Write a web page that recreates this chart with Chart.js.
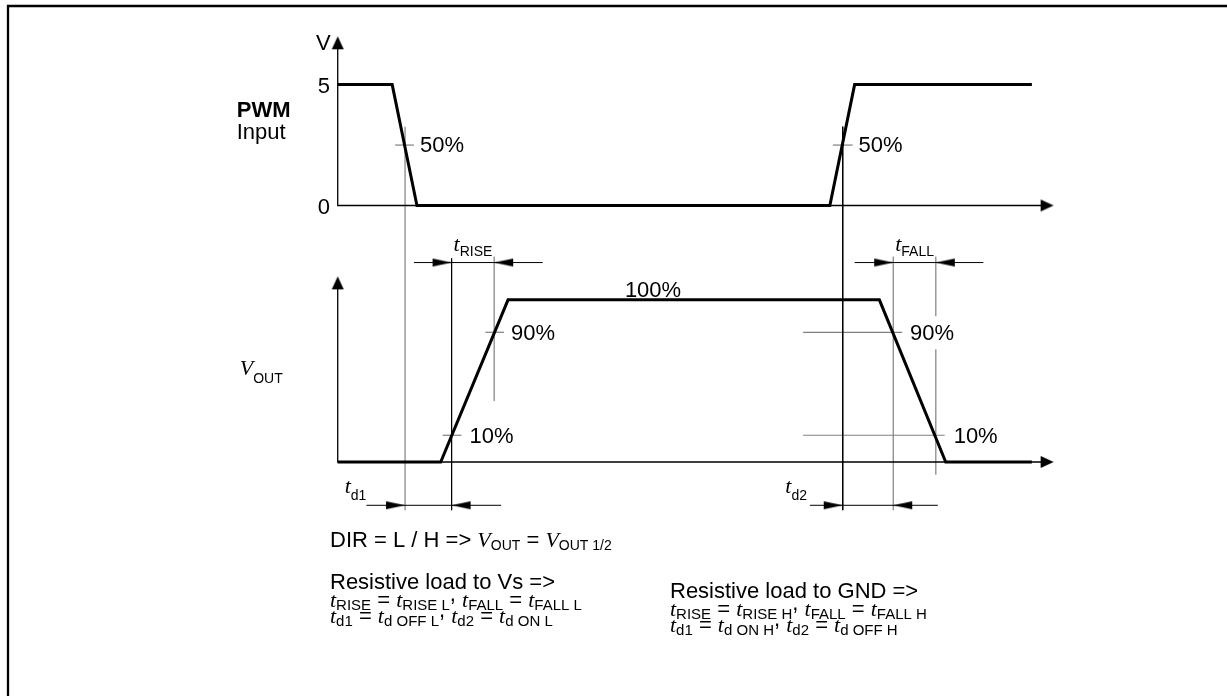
<!DOCTYPE html>
<html>
<head>
<meta charset="utf-8">
<script src="https://cdn.jsdelivr.net/npm/chart.js@4.4.1/dist/chart.umd.min.js"></script>
<style>
  html, body { margin: 0; padding: 0; background: #fff; }
  #wrap { width: 1227px; height: 696px; }
</style>
</head>
<body>
<div id="wrap"><canvas id="timing" width="1227" height="696"></canvas></div>
<script>
// time in schematic units, PWM in volts, VOUT in percent of full swing
const pwmTimes = [0, 5.5, 8.0, 49.7, 52.2, 70.1];
const pwmVolts = [5, 5, 0, 0, 5, 5];
const outTimes = [0, 10.4, 17.2, 54.7, 61.4, 70.1];
const outLevels = [0, 0, 100, 100, 0, 0];

const pwmTicks = ['5', '0'];
const pwmTickValues = [5, 0];

const halfCross = [6.8, 51.0];   // PWM 50% crossings
const riseCross = [11.5, 15.8];  // VOUT 10% / 90% on the rising edge
const fallCross = [56.1, 60.4];  // VOUT 90% / 10% on the falling edge
const markLevels = [16.5, 80];   // heights where 10% and 90% are marked
const markLabels = ['10%', '90%'];

const axisEnd = 72.3;
const pwmAxisTop = 7.0;
const outAxisTop = 114.5;

// page geometry
const W = 1227, H = 696;
const X0 = 335, XU = 10;
const PWM0 = 203, PWMU = 24.6;
const OUT0 = 464, OUTU = 1.65;

const BLACK = '#000';
const GREY = '#808080';
const SANS = '"Liberation Sans", Arial, Helvetica, sans-serif';
const SERIF = '"Liberation Serif", "Times New Roman", serif';

function pts(xs, ys) {
  return xs.map((x, i) => ({ x: x, y: ys[i] }));
}

function lineSet(data, axis, color, width, order) {
  return {
    data: data, yAxisID: axis, showLine: true, fill: false,
    borderColor: color, borderWidth: width, pointRadius: 0,
    tension: 0, order: order
  };
}

function arrowHead(len, half) {
  const c = document.createElement('canvas');
  c.width = Math.round(half * 2 + 2);
  c.height = Math.round(len * 2 + 2);
  const g = c.getContext('2d');
  const cx = c.width / 2, cy = c.height / 2;
  g.fillStyle = BLACK;
  g.beginPath();
  g.moveTo(cx, cy);
  g.lineTo(cx + half, cy + len);
  g.lineTo(cx - half, cy + len);
  g.closePath();
  g.fill();
  return c;
}

const bigArrow = arrowHead(13, 6);
const thinArrow = arrowHead(19, 4);

function arrowSet(points, rotations, axis, img) {
  return {
    data: points, yAxisID: axis, showLine: false,
    pointStyle: img, pointRadius: 5, pointRotation: rotations, order: 0
  };
}

const datasets = [];

// signals
datasets.push(lineSet(pts(pwmTimes, pwmVolts), 'yPwm', BLACK, 3, 1));
datasets.push(lineSet(pts(outTimes, outLevels), 'yOut', BLACK, 3, 1));

// axes
datasets.push(lineSet([{ x: 0, y: pwmAxisTop - 0.3 }, { x: 0, y: 0 }, { x: axisEnd - 0.5, y: 0 }], 'yPwm', BLACK, 1.3, 5));
datasets.push(lineSet([{ x: 0, y: outAxisTop - 3 }, { x: 0, y: 0 }, { x: axisEnd - 0.5, y: 0 }], 'yOut', BLACK, 1.3, 5));
datasets.push(arrowSet([{ x: 0, y: pwmAxisTop }, { x: axisEnd, y: 0 }], [0, 90], 'yPwm', bigArrow));
datasets.push(arrowSet([{ x: 0, y: outAxisTop }, { x: axisEnd, y: 0 }], [0, 90], 'yOut', bigArrow));

// vertical guides (x, top, bottom) on the VOUT scale
[[halfCross[0], 206.8, -29.7], [riseCross[1], 126.7, 37.6],
 [fallCross[0], 126.7, -29.7], [fallCross[1], 126.7, -7.9]].forEach(v => {
  datasets.push(lineSet([{ x: v[0], y: v[1] }, { x: v[0], y: v[2] }], 'yOut', GREY, 1.2, 6));
});
[[halfCross[1], 206.8, -29.7], [riseCross[0], 125.5, -29.7]].forEach(v => {
  datasets.push(lineSet([{ x: v[0], y: v[1] }, { x: v[0], y: v[2] }], 'yOut', BLACK, 1, 6));
});

// horizontal level guides on the falling edge
datasets.push(lineSet([{ x: 47.0, y: markLevels[1] }, { x: 57.0, y: markLevels[1] }], 'yOut', GREY, 1.2, 6));
datasets.push(lineSet([{ x: 47.0, y: markLevels[0] }, { x: 61.3, y: markLevels[0] }], 'yOut', GREY, 1.2, 6));

// small cross ticks
datasets.push(lineSet([{ x: 5.8, y: 2.5 }, { x: 7.7, y: 2.5 }], 'yPwm', GREY, 1.2, 6));
datasets.push(lineSet([{ x: 50.0, y: 2.5 }, { x: 52.0, y: 2.5 }], 'yPwm', GREY, 1.2, 6));
datasets.push(lineSet([{ x: 14.9, y: markLevels[1] }, { x: 16.8, y: markLevels[1] }], 'yOut', GREY, 1.2, 6));
datasets.push(lineSet([{ x: 10.6, y: markLevels[0] }, { x: 12.5, y: markLevels[0] }], 'yOut', GREY, 1.2, 6));

// dimension lines
const dimTop = 123, dimBottom = -26.7;
[[7.7, 20.7, dimTop], [52.2, 65.2, dimTop], [2.9, 16.5, dimBottom], [47.7, 60.6, dimBottom]].forEach(d => {
  datasets.push(lineSet([{ x: d[0], y: d[2] }, { x: d[1], y: d[2] }], 'yOut', BLACK, 1, 4));
});
datasets.push(arrowSet([
  { x: riseCross[0], y: dimTop }, { x: riseCross[1], y: dimTop },
  { x: fallCross[0], y: dimTop }, { x: fallCross[1], y: dimTop },
  { x: halfCross[0], y: dimBottom }, { x: riseCross[0], y: dimBottom },
  { x: halfCross[1], y: dimBottom }, { x: fallCross[0], y: dimBottom }
], [90, -90, 90, -90, 90, -90, 90, -90], 'yOut', thinArrow));

// text drawing
const STYLES = {
  n: '22px ' + SANS,
  b: 'bold 22px ' + SANS,
  i: 'italic 22px ' + SERIF,
  s: '14px ' + SANS,
  f: '15px ' + SANS
};

function drawRich(ctx, x, y, parts, opt) {
  opt = opt || {};
  const subDy = opt.subDy != null ? opt.subDy : 6;
  let total = 0;
  const widths = parts.map(p => {
    ctx.font = STYLES[p[1] === 'c' ? 'n' : p[1]];
    const w = ctx.measureText(p[0]).width;
    total += w;
    return w;
  });
  let cx = x;
  if (opt.align === 'right') cx = x - total;
  if (opt.align === 'center') cx = x - total / 2;
  if (opt.bg) {
    ctx.fillStyle = '#fff';
    ctx.fillRect(cx - 2, y - 24, total + 4, 33);
  }
  ctx.fillStyle = BLACK;
  ctx.textBaseline = 'alphabetic';
  ctx.textAlign = 'left';
  parts.forEach((p, i) => {
    const kind = p[1];
    ctx.font = STYLES[kind === 'c' ? 'n' : kind];
    let dy = 0;
    if (kind === 's' || kind === 'f') dy = subDy;
    if (kind === 'c') dy = -6;
    ctx.fillText(p[0], cx, y + dy);
    cx += widths[i];
  });
}

function eqRow(a, b, c, d, e, f, g, h) {
  return [['t', 'i'], [a, 'f'], [' = ', 'n'], ['t', 'i'], [b, 'f'], [', ', 'c'],
          ['t', 'i'], [c, 'f'], [' = ', 'n'], ['t', 'i'], [d, 'f']];
}

const notesPlugin = {
  id: 'notes',
  beforeDraw(chart) {
    const ctx = chart.ctx;
    ctx.save();
    ctx.strokeStyle = BLACK;
    ctx.lineWidth = 2.3;
    ctx.beginPath();
    ctx.moveTo(8, H);
    ctx.lineTo(8, 6);
    ctx.lineTo(W, 6);
    ctx.stroke();
    ctx.restore();
  },
  afterDatasetsDraw(chart) {
    const ctx = chart.ctx;
    const sx = chart.scales.x, sp = chart.scales.yPwm, so = chart.scales.yOut;
    const px = v => sx.getPixelForValue(v);
    const pp = v => sp.getPixelForValue(v);
    const po = v => so.getPixelForValue(v);
    ctx.save();

    // PWM panel
    drawRich(ctx, px(-0.7), pp(6.42), [['V', 'n']], { align: 'right' });
    pwmTicks.forEach((t, i) => {
      drawRich(ctx, px(-1.4), pp(pwmTickValues[i]) + 8, [[t, 'n']], { align: 'center' });
    });
    drawRich(ctx, px(-10.2), pp(3.66), [['PWM', 'b']]);
    drawRich(ctx, px(-10.2), pp(2.76), [['Input', 'n']]);
    drawRich(ctx, px(8.3), pp(2.20), [['50%', 'n']]);
    drawRich(ctx, px(52.6), pp(2.20), [['50%', 'n']]);

    // VOUT panel
    drawRich(ctx, px(11.7), po(130.3), [['t', 'i'], ['RISE', 's']], { subDy: 5 });
    drawRich(ctx, px(56.3), po(130.3), [['t', 'i'], ['FALL', 's']], { subDy: 5 });
    drawRich(ctx, px(29.0), po(101.8), [['100%', 'n']]);
    drawRich(ctx, px(17.5), po(markLevels[1]) + 8, [[markLabels[1], 'n']]);
    drawRich(ctx, px(57.8), po(markLevels[1]) + 8, [[markLabels[1], 'n']], { bg: true });
    drawRich(ctx, px(13.3), po(markLevels[0]) + 8, [[markLabels[0], 'n']]);
    drawRich(ctx, px(62.2), po(markLevels[0]) + 8, [[markLabels[0], 'n']]);
    drawRich(ctx, px(-9.9), po(53.9), [['V', 'i'], ['OUT', 's']], { subDy: 8 });
    drawRich(ctx, px(0.7), po(-19.4), [['t', 'i'], ['d1', 's']], { subDy: 7 });
    drawRich(ctx, px(45.2), po(-19.4), [['t', 'i'], ['d2', 's']], { subDy: 7 });

    // notes below the diagram
    drawRich(ctx, 330, 547, [['DIR = L / H => ', 'n'], ['V', 'i'], ['OUT', 's'], [' = ', 'n'],
      ['V', 'i'], ['OUT 1/2', 's']], { subDy: 3 });
    drawRich(ctx, 330, 589, [['Resistive load to Vs =>', 'n']]);
    drawRich(ctx, 330, 607, eqRow('RISE', 'RISE L', 'FALL', 'FALL L'), { subDy: 3 });
    drawRich(ctx, 330, 623, eqRow('d1', 'd OFF L', 'd2', 'd ON L'), { subDy: 3 });
    drawRich(ctx, 670, 598, [['Resistive load to GND =>', 'n']]);
    drawRich(ctx, 670, 616, eqRow('RISE', 'RISE H', 'FALL', 'FALL H'), { subDy: 3 });
    drawRich(ctx, 670, 632, eqRow('d1', 'd ON H', 'd2', 'd OFF H'), { subDy: 3 });

    ctx.restore();
  }
};

new Chart(document.getElementById('timing'), {
  type: 'scatter',
  data: { datasets: datasets },
  options: {
    responsive: false,
    animation: false,
    events: [],
    layout: { padding: 0 },
    plugins: { legend: { display: false }, tooltip: { enabled: false } },
    scales: {
      x: { type: 'linear', display: false, bounds: 'data', min: -X0 / XU, max: (W - X0) / XU },
      yPwm: { type: 'linear', display: false, bounds: 'data', min: -(H - PWM0) / PWMU, max: PWM0 / PWMU },
      yOut: { type: 'linear', display: false, bounds: 'data', min: -(H - OUT0) / OUTU, max: OUT0 / OUTU }
    }
  },
  plugins: [notesPlugin]
});
</script>
</body>
</html>
